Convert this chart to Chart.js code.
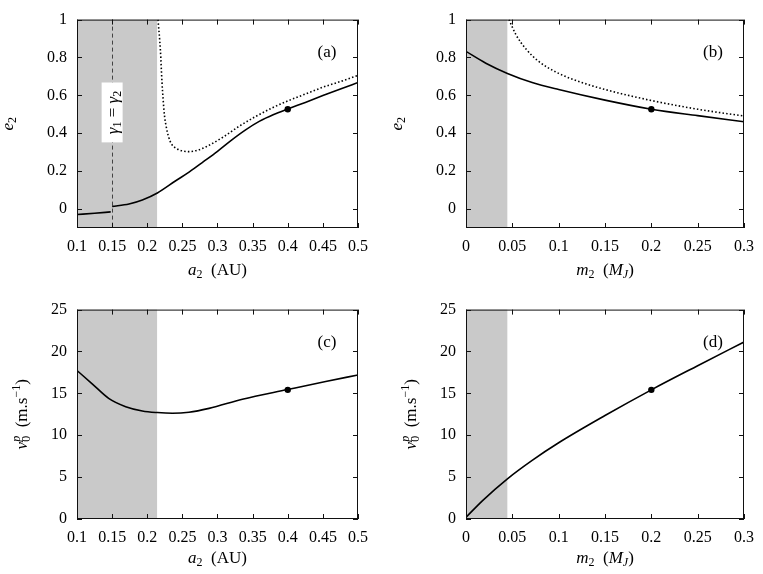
<!DOCTYPE html>
<html><head><meta charset="utf-8">
<script src="https://cdn.jsdelivr.net/npm/chart.js@4.4.0/dist/chart.umd.min.js"></script>
<style>
html,body{margin:0;padding:0;background:#fff;}
#wrap{position:relative;width:763px;height:574px;background:#fff;}
canvas{position:absolute;}
</style></head><body>
<div id="wrap">
<canvas id="ca" width="381" height="290" style="left:0;top:0"></canvas>
<canvas id="cb" width="382" height="290" style="left:381px;top:0"></canvas>
<canvas id="cc" width="381" height="284" style="left:0;top:290px"></canvas>
<canvas id="cd" width="382" height="284" style="left:381px;top:290px"></canvas>
</div>
<script>
// ===== DATA =====
// Panel (a): e2 vs a2 (AU)
const aTicksA2 = [0.1, 0.15, 0.2, 0.25, 0.3, 0.35, 0.4, 0.45, 0.5];
const eTicks = [0, 0.2, 0.4, 0.6, 0.8, 1];
const a2SolidInner = [0.100, 0.125, 0.148];
const e2SolidInner = [-0.029, -0.022, -0.015];
const a2SolidOuter = [0.150, 0.174, 0.193, 0.2144, 0.240, 0.260, 0.280, 0.300, 0.320, 0.340, 0.360, 0.380, 0.400, 0.425, 0.450, 0.475, 0.500];
const e2SolidOuter = [0.014, 0.027, 0.048, 0.085, 0.148, 0.196, 0.250, 0.305, 0.364, 0.418, 0.464, 0.499, 0.528, 0.563, 0.599, 0.634, 0.668];
const a2Dotted = [0.2153, 0.2187, 0.2210, 0.2225, 0.2244, 0.2272, 0.2305, 0.2343, 0.2415, 0.2509, 0.2594, 0.272, 0.284, 0.308, 0.3316, 0.355, 0.379, 0.4028, 0.4265, 0.450, 0.474, 0.500];
const e2DottedA = [1.000, 0.839, 0.668, 0.584, 0.498, 0.431, 0.380, 0.345, 0.320, 0.306, 0.303, 0.311, 0.329, 0.380, 0.439, 0.490, 0.536, 0.575, 0.609, 0.643, 0.672, 0.706];
const a2Marker = [0.4];
const e2MarkerA = [0.527];
const a2Shade = [0.1, 0.214];
const a2Gamma = 0.15;

// Panel (b): e2 vs m2 (MJ)
const mTicks = [0, 0.05, 0.1, 0.15, 0.2, 0.25, 0.3];
const m2Solid = [0, 0.0214, 0.0447, 0.0714, 0.1, 0.15, 0.2, 0.25, 0.3];
const e2SolidB = [0.832, 0.770, 0.716, 0.668, 0.631, 0.575, 0.527, 0.493, 0.461];
const m2Dotted = [0.0464, 0.0536, 0.0643, 0.0786, 0.1, 0.125, 0.15, 0.2, 0.25, 0.3];
const e2DottedB = [1.0, 0.923, 0.847, 0.779, 0.716, 0.668, 0.631, 0.573, 0.527, 0.491];
const m2Marker = [0.2];
const e2MarkerB = [0.527];
const m2Shade = [0, 0.0446];

// Panel (c): v0p vs a2
const vTicks = [0, 5, 10, 15, 20, 25];
const a2SolidC = [0.1, 0.122, 0.1456, 0.1693, 0.193, 0.2144, 0.2358, 0.2594, 0.288, 0.3354, 0.3995, 0.454, 0.5];
const vSolidC = [17.73, 16.11, 14.37, 13.41, 12.90, 12.71, 12.63, 12.75, 13.21, 14.29, 15.45, 16.42, 17.19];
const vMarkerC = [15.42];

// Panel (d): v0p vs m2
const m2SolidD = [0, 0.0179, 0.0447, 0.0714, 0.1, 0.15, 0.2, 0.25, 0.3];
const vSolidD = [0.2, 2.2, 4.8, 7.0, 9.1, 12.35, 15.42, 18.3, 21.13];
const vMarkerD = [15.42];

// ===== RENDERING =====
const FONT = 'Liberation Serif';
Chart.defaults.font.family = FONT;
Chart.defaults.font.size = 16;
Chart.defaults.color = '#000';

const pts = (xs, ys) => xs.map((x, i) => ({x, y: ys[i]}));

function drawRich(ctx, segs, x, y, angle, size) {
  const parts = segs.map(s => {
    const small = s.pos === 'sub' || s.pos === 'sup';
    const fs = small ? Math.round(size * 0.7) : size;
    const font = (s.it ? 'italic ' : '') + fs + 'px "' + FONT + '"';
    ctx.font = font;
    return Object.assign({}, s, {font, w: ctx.measureText(s.t).width,
      dy: s.pos === 'sub' ? size * 0.2 : s.pos === 'sup' ? -size * 0.42 : 0});
  });
  let total = 0;
  parts.forEach(p => { if (p.adv !== false) total += p.w; });
  ctx.save();
  ctx.translate(x, y);
  ctx.rotate(angle);
  ctx.fillStyle = '#000';
  ctx.textBaseline = 'alphabetic';
  ctx.textAlign = 'left';
  let cx = -total / 2;
  parts.forEach(p => { ctx.font = p.font; ctx.fillText(p.t, cx, p.dy); if (p.adv !== false) cx += p.w; });
  ctx.restore();
}

const T_E = [{t:'e', it:true}, {t:'2', pos:'sub'}];
const T_A = [{t:'a', it:true}, {t:'2', pos:'sub'}, {t:'  (AU)'}];
const T_M = [{t:'m', it:true}, {t:'2', pos:'sub'}, {t:'  ('}, {t:'M', it:true}, {t:'J', it:true, pos:'sub'}, {t:')'}];
const T_V = [{t:'v', it:true}, {t:'0', pos:'sub', adv:false}, {t:'p', it:true, pos:'sup'}, {t:'  (m.s'}, {t:'−1', pos:'sup'}, {t:')'}];
const T_G = [{t:'γ', it:true}, {t:'1', pos:'sub'}, {t:' = '}, {t:'γ', it:true}, {t:'2', pos:'sub'}];

function makePlugin(cfg) {
  return {
    id: 'panel' + cfg.label,
    beforeDatasetsDraw(chart) {
      const {ctx, chartArea: ca, scales: {x, y}} = chart;
      ctx.save();
      ctx.fillStyle = '#c9c9c9';
      const x0 = x.getPixelForValue(cfg.shade[0]), x1 = x.getPixelForValue(cfg.shade[1]);
      ctx.fillRect(x0, ca.top, x1 - x0, ca.bottom - ca.top);
      if (cfg.vline != null) {
        const vx = Math.round(x.getPixelForValue(cfg.vline)) + 0.5;
        ctx.strokeStyle = '#333';
        ctx.lineWidth = 0.9;
        ctx.setLineDash([4, 3]);
        ctx.beginPath(); ctx.moveTo(vx, ca.top); ctx.lineTo(vx, ca.bottom); ctx.stroke();
      }
      ctx.restore();
    },
    afterDatasetsDraw(chart) {
      const {ctx, chartArea: ca, scales: {x, y}} = chart;
      ctx.save();
      if (cfg.vline != null) {
        const cx = x.getPixelForValue(cfg.vline);
        const yTop = y.getPixelForValue(0.668), yBot = y.getPixelForValue(0.352);
        ctx.fillStyle = '#fff';
        ctx.fillRect(cx - 10.5, yTop, 21, yBot - yTop);
        drawRich(ctx, T_G, cx + 5.5, (yTop + yBot) / 2, -Math.PI / 2, 17);
      }
      // frame
      ctx.strokeStyle = '#111';
      ctx.lineWidth = 1;
      ctx.setLineDash([]);
      ctx.strokeRect(ca.left + 0.5, ca.top + 0.5, ca.right - ca.left - 1, ca.bottom - ca.top - 1);
      // inward ticks, mirrored
      ctx.beginPath();
      x.ticks.forEach(t => {
        const px = Math.round(x.getPixelForValue(t.value)) + 0.5;
        ctx.moveTo(px, ca.bottom); ctx.lineTo(px, ca.bottom - 5);
        ctx.moveTo(px, ca.top); ctx.lineTo(px, ca.top + 5);
      });
      y.ticks.forEach(t => {
        const py = Math.round(y.getPixelForValue(t.value)) + 0.5;
        ctx.moveTo(ca.left, py); ctx.lineTo(ca.left + 5, py);
        ctx.moveTo(ca.right, py); ctx.lineTo(ca.right - 5, py);
      });
      ctx.stroke();
      // panel label
      ctx.fillStyle = '#000';
      ctx.font = '17px "' + FONT + '"';
      ctx.textAlign = 'center';
      ctx.textBaseline = 'middle';
      ctx.fillText('(' + cfg.label + ')', ca.right - 31, ca.top + 33);
      // axis titles
      drawRich(ctx, cfg.xTitle, (ca.left + ca.right) / 2, ca.bottom + cfg.xTitleOff, 0, 17);
      drawRich(ctx, cfg.yTitle, ca.left - cfg.yTitleOff, (ca.top + ca.bottom) / 2, -Math.PI / 2, 17);
      ctx.restore();
    }
  };
}

function makeChart(id, cfg) {
  const cv = document.getElementById(id);
  const W = cv.width, H = cv.height;
  const datasets = cfg.lines.map(l => ({
    type: 'line', data: l.data, borderColor: '#000', borderWidth: 1.6,
    borderDash: l.dotted ? [1.5, 2.2] : [], pointRadius: 0, fill: false,
    cubicInterpolationMode: 'monotone', showLine: true
  }));
  datasets.push({type: 'scatter', data: cfg.marker, pointRadius: 3.2, backgroundColor: '#000', borderColor: '#000', borderWidth: 0});
  return new Chart(cv, {
    data: {datasets},
    options: {
      responsive: false, animation: false, devicePixelRatio: 1,
      layout: {padding: {top: cfg.area.top, right: W - cfg.area.right, left: 0, bottom: 0}},
      plugins: {legend: {display: false}, tooltip: {enabled: false}},
      scales: {
        x: {type: 'linear', min: cfg.xMin, max: cfg.xMax,
          grid: {display: false, drawTicks: false}, border: {display: false},
          afterBuildTicks: s => { s.ticks = cfg.xTicks.map(v => ({value: v})); },
          afterFit: s => { s.height = H - cfg.area.bottom; },
          ticks: {padding: 9, color: '#000', font: {size: 16}, maxRotation: 0, autoSkip: false, callback: v => String(v)}},
        y: {type: 'linear', min: cfg.yMin, max: cfg.yMax,
          grid: {display: false, drawTicks: false}, border: {display: false},
          afterBuildTicks: s => { s.ticks = cfg.yTicks.map(v => ({value: v})); },
          afterFit: s => { s.width = cfg.area.left; },
          ticks: {padding: 10, color: '#000', font: {size: 16}, autoSkip: false, callback: v => String(v)}}
      }
    },
    plugins: [makePlugin(cfg)]
  });
}

makeChart('ca', {
  label: 'a', area: {left: 77, right: 358, top: 12, bottom: 228},
  xMin: 0.1, xMax: 0.5, yMin: -0.1, yMax: 1, xTicks: aTicksA2, yTicks: eTicks,
  shade: a2Shade, vline: a2Gamma,
  lines: [{data: pts(a2SolidInner, e2SolidInner)}, {data: pts(a2SolidOuter, e2SolidOuter)}, {data: pts(a2Dotted, e2DottedA), dotted: true}],
  marker: pts(a2Marker, e2MarkerA),
  xTitle: T_A, yTitle: T_E, xTitleOff: 47, yTitleOff: 64
});
makeChart('cb', {
  label: 'b', area: {left: 85, right: 365, top: 12, bottom: 228},
  xMin: 0, xMax: 0.3, yMin: -0.1, yMax: 1, xTicks: mTicks, yTicks: eTicks,
  shade: m2Shade, vline: null,
  lines: [{data: pts(m2Solid, e2SolidB)}, {data: pts(m2Dotted, e2DottedB), dotted: true}],
  marker: pts(m2Marker, e2MarkerB),
  xTitle: T_M, yTitle: T_E, xTitleOff: 47, yTitleOff: 64
});
makeChart('cc', {
  label: 'c', area: {left: 77, right: 358, top: 13, bottom: 229},
  xMin: 0.1, xMax: 0.5, yMin: 0, yMax: 25, xTicks: aTicksA2, yTicks: vTicks,
  shade: a2Shade, vline: null,
  lines: [{data: pts(a2SolidC, vSolidC)}],
  marker: pts(a2Marker, vMarkerC),
  xTitle: T_A, yTitle: T_V, xTitleOff: 44, yTitleOff: 50
});
makeChart('cd', {
  label: 'd', area: {left: 85, right: 365, top: 13, bottom: 229},
  xMin: 0, xMax: 0.3, yMin: 0, yMax: 25, xTicks: mTicks, yTicks: vTicks,
  shade: m2Shade, vline: null,
  lines: [{data: pts(m2SolidD, vSolidD)}],
  marker: pts(m2Marker, vMarkerD),
  xTitle: T_M, yTitle: T_V, xTitleOff: 44, yTitleOff: 50
});
</script>
</body></html>
